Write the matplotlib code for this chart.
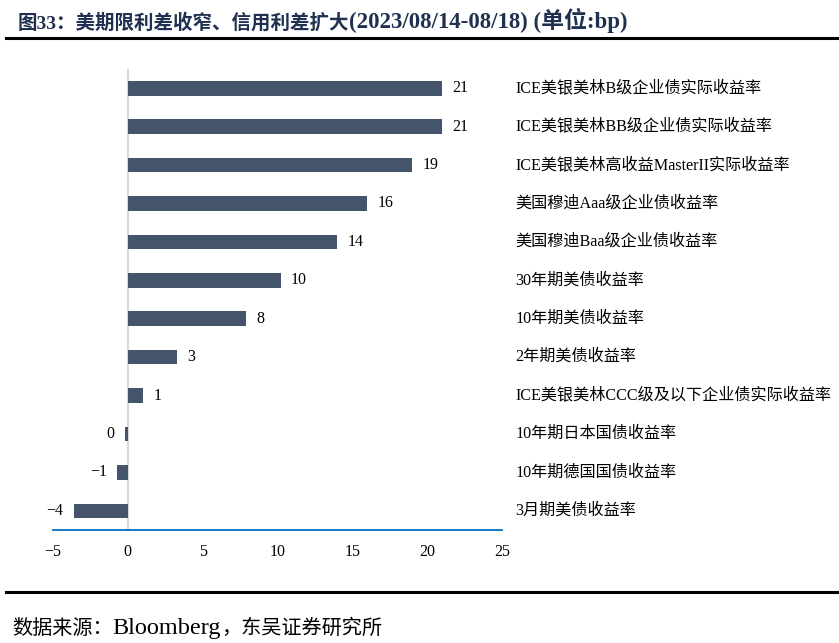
import matplotlib
matplotlib.use("Agg")
import matplotlib.pyplot as plt

# ----------------------------------------------------------------------------------------------------------------------
# Data (unit: bp)

categories = [
    "ICE美银美林B级企业债实际收益率",
    "ICE美银美林BB级企业债实际收益率",
    "ICE美银美林高收益MasterII实际收益率",
    "美国穆迪Aaa级企业债收益率",
    "美国穆迪Baa级企业债收益率",
    "30年期美债收益率",
    "10年期美债收益率",
    "2年期美债收益率",
    "ICE美银美林CCC级及以下企业债实际收益率",
    "10年期日本国债收益率",
    "10年期德国国债收益率",
    "3月期美债收益率",
]
values = [21.0, 21.0, 19.0, 16.0, 14.0, 10.2, 7.9, 3.3, 1.0, -0.2, -0.7, -3.6]
value_labels = ["21", "21", "19", "16", "14", "10", "8", "3", "1", "0", "-1", "-4"]
x_ticks = [-5, 0, 5, 10, 15, 20, 25]

# Title / source split into pieces so the latin parts can be a bit larger
title_parts = [("图33：美期限利差收窄、信用利差扩大", 14), ("(2023/08/14-08/18) (单位:bp)", 16.5)]
source_parts = [("数据来源：", 14.5), ("Bloomberg", 17.5), ("，东吴证券研究所", 14.5)]

# ----------------------------------------------------------------------------------------------------------------------

plt.rcParams["font.family"] = ["Liberation Serif", "Noto Sans CJK SC", "DejaVu Sans"]
plt.rcParams["axes.unicode_minus"] = False


def draw_parts(fig, x, y, parts, **kwargs):
    """
    Draw a row of text pieces one after another, each with its own font size
    """
    renderer = fig.canvas.get_renderer()
    for txt, size in parts:
        t = fig.text(x, y, txt, ha="left", va="baseline", fontsize=size, **kwargs)
        bbox = t.get_window_extent(renderer=renderer)
        x += bbox.width / fig.bbox.width


fig = plt.figure(figsize=(8.39, 6.43), dpi=100)
ax = fig.add_axes([0.0632, 0.1757, 0.5352, 0.717])

# Bars
y_pos = list(range(len(categories)))
ax.barh(y_pos, values, height=0.38, color="#44546A", zorder=3)

# Value labels next to bar ends
for y, v, lab in zip(y_pos, values, value_labels):
    if v >= 0:
        ax.text(v + 0.7, y, lab, ha="left", va="center", fontsize=11.5, color="black")
    else:
        ax.text(v - 0.7, y, lab.replace("-", "−"), ha="right", va="center", fontsize=11.5, color="black")

# Category labels to the right of the plot area
for y, cat in zip(y_pos, categories):
    ax.text(1.03, y, cat, transform=ax.get_yaxis_transform(), ha="left", va="center",
            fontsize=11.6, color="black")

ax.set_xlim(-5, 25)
ax.set_ylim(len(categories) - 0.5, -0.5)
ax.set_xticks(x_ticks)
ax.set_xticklabels([str(t).replace("-", "−") for t in x_ticks], fontsize=11.5)
ax.set_yticks([])
ax.tick_params(axis="x", length=0, pad=10)

# Zero line and bottom axis
ax.axvline(0, color="#D9D9D9", linewidth=1.5, zorder=2)
for side in ["top", "right", "left"]:
    ax.spines[side].set_visible(False)
ax.spines["bottom"].set_color("#0070C0")
ax.spines["bottom"].set_linewidth(1.3)

# Title, rules and source
draw_parts(fig, 0.021, 0.956, title_parts, fontweight="bold", color="#1F3050")
fig.add_artist(plt.Line2D([0.007, 1.0], [0.941, 0.941], color="black", linewidth=2.2))
fig.add_artist(plt.Line2D([0.007, 1.0], [0.079, 0.079], color="black", linewidth=2.2))
draw_parts(fig, 0.014, 0.014, source_parts, color="black")

fig.savefig("out.png", dpi=100)
